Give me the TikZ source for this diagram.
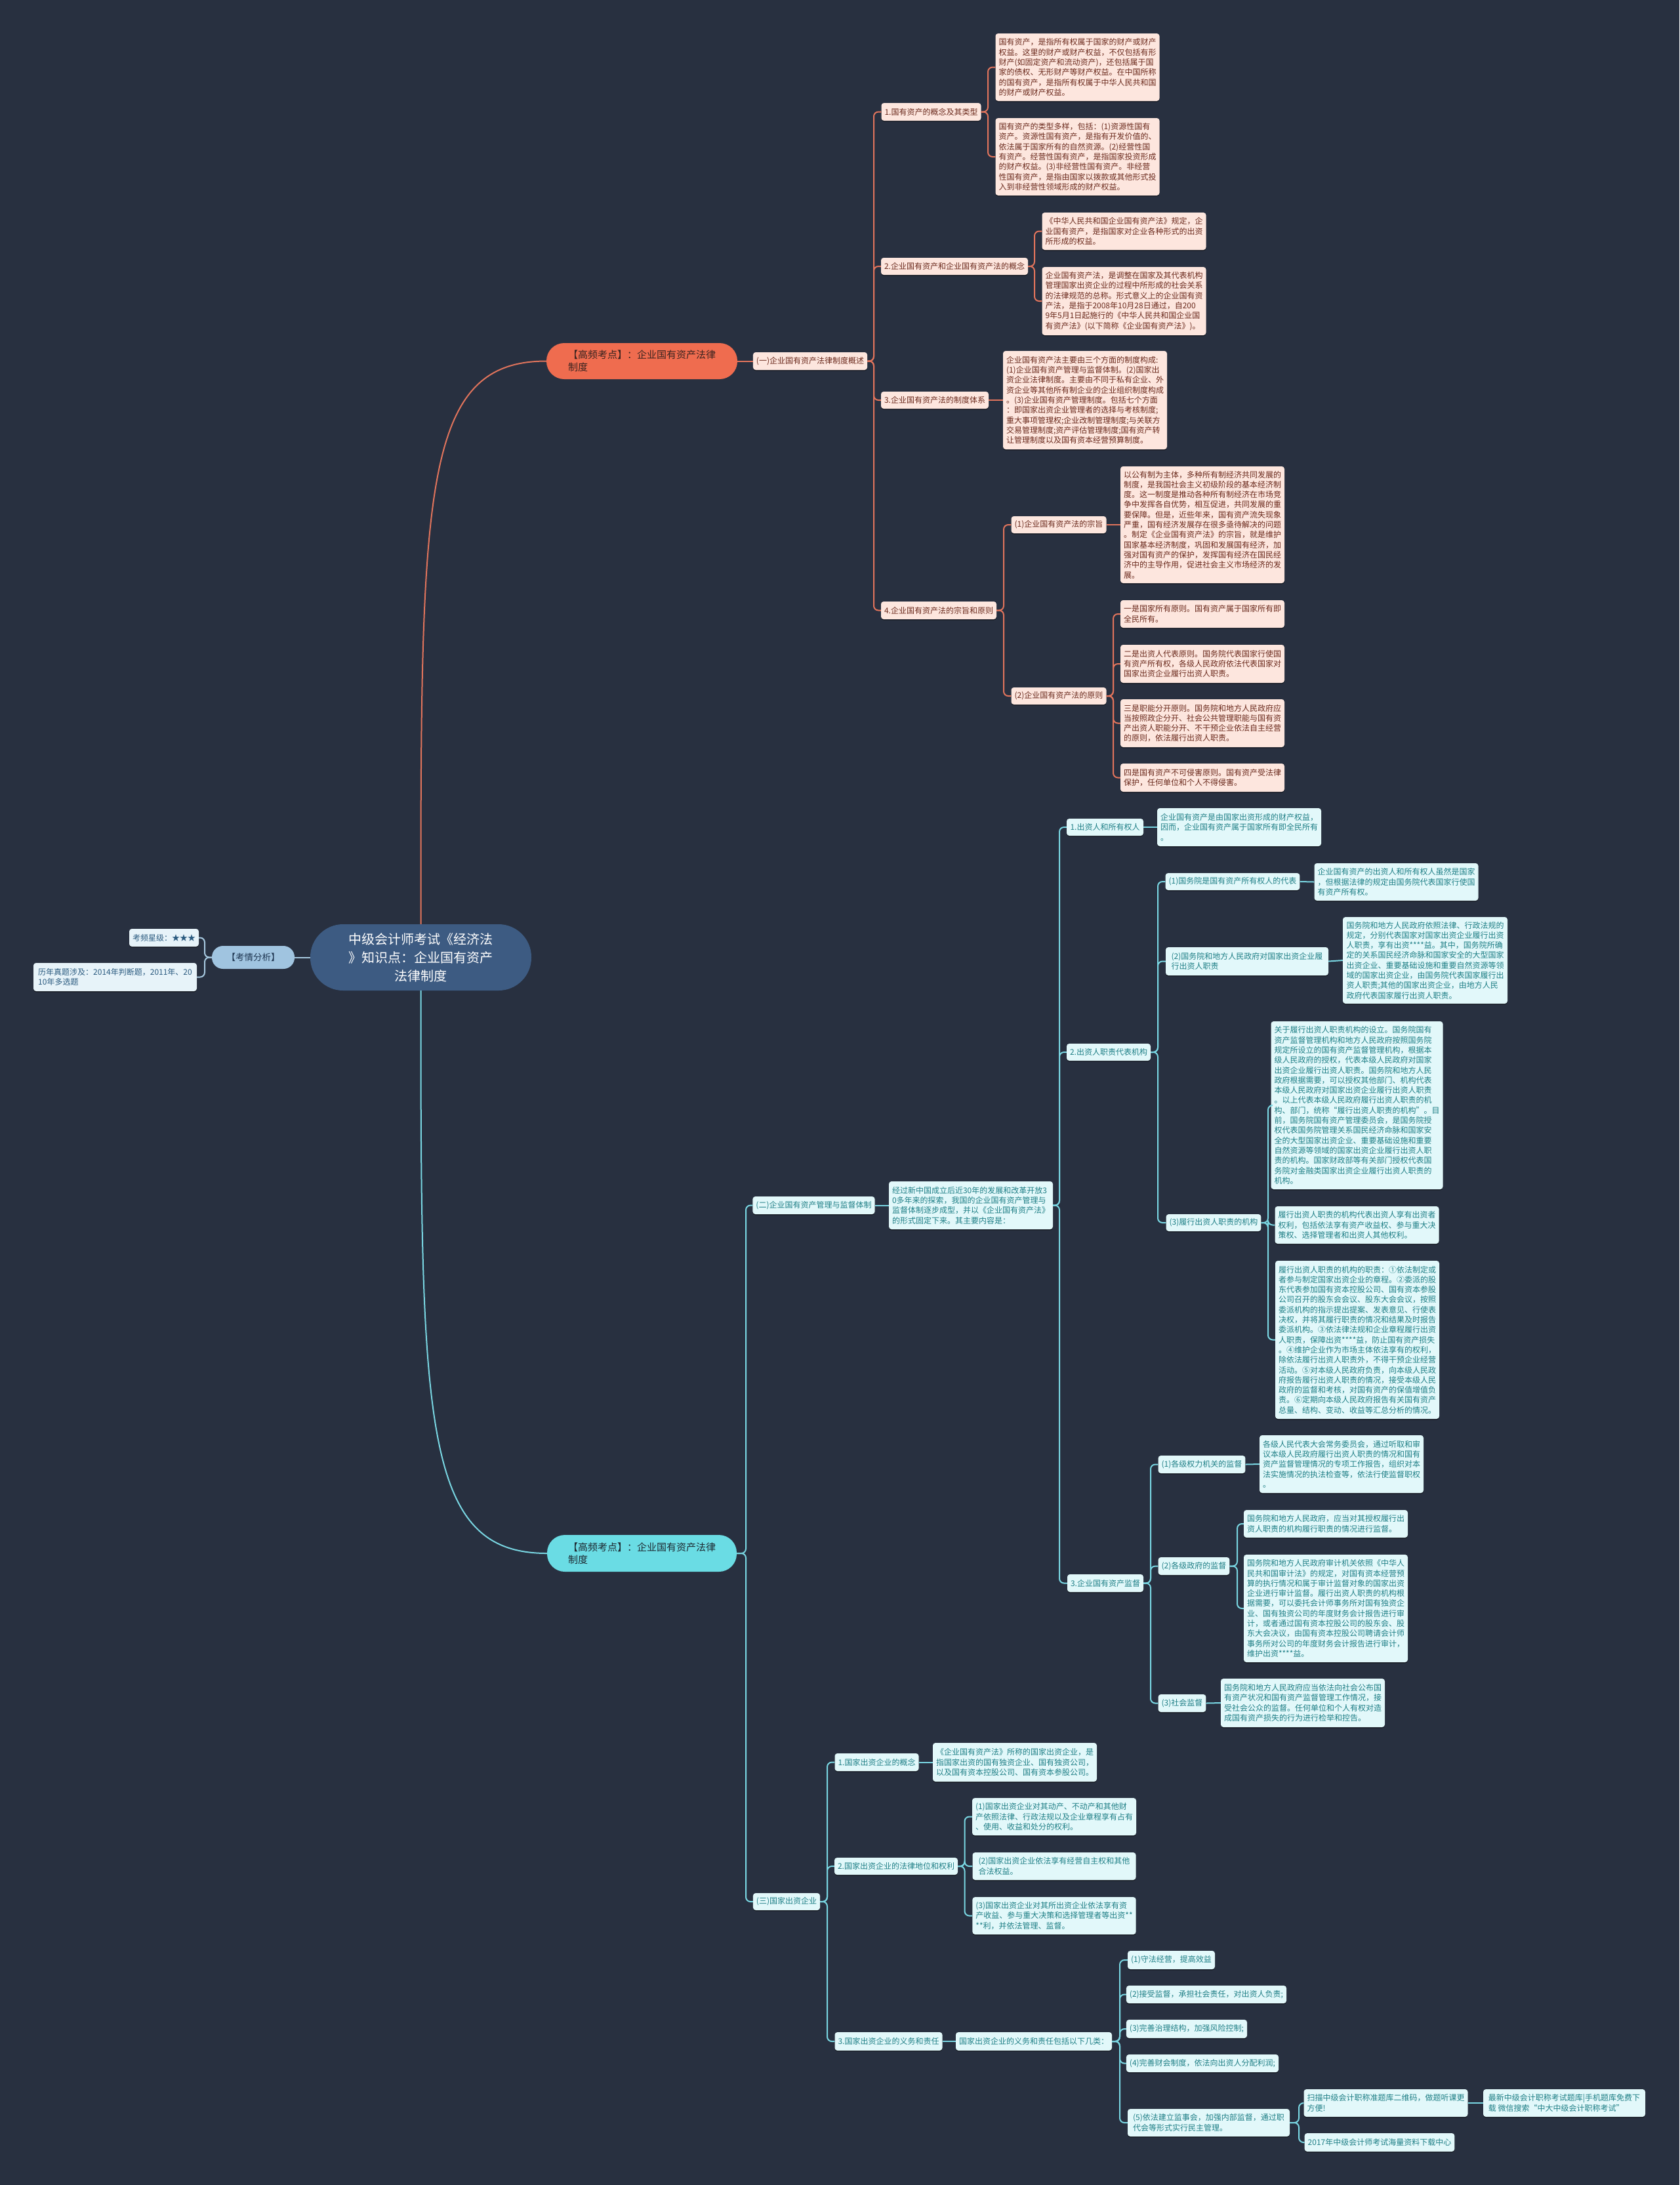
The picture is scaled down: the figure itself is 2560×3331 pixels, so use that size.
\documentclass[tikz,border=0pt]{standalone}
\usepackage{fontspec}
\setmainfont{Noto Sans CJK SC}
\usetikzlibrary{shadows}
\definecolor{bg}{HTML}{283040}
\definecolor{ofill}{HTML}{FDE6DE}
\definecolor{otext}{HTML}{6B2A1D}
\definecolor{oline}{HTML}{E1745C}
\definecolor{omain}{HTML}{EF6C4F}
\definecolor{omaintext}{HTML}{3A2420}
\definecolor{cfill}{HTML}{E2F8FA}
\definecolor{ctext}{HTML}{1F7F86}
\definecolor{cline}{HTML}{79D6E2}
\definecolor{cmain}{HTML}{6ADCE4}
\definecolor{cmaintext}{HTML}{1E2A32}
\definecolor{kfill}{HTML}{E7F3F9}
\definecolor{ktext}{HTML}{2A5A7F}
\definecolor{kline}{HTML}{A7C9E0}
\definecolor{kmain}{HTML}{A0C4E0}
\definecolor{kmaintext}{HTML}{1E3550}
\definecolor{rootfill}{HTML}{3D5B82}
\newcommand\mmlink[4]{\draw[#1] (#2.east) -- (#2.east -| #3) |- (#4.west);}
\newcommand\mmlinkL[4]{\draw[#1] (#2.west) -- (#2.west -| #3) |- (#4.east);}
\tikzset{
 base/.style={rounded corners=4pt, inner xsep=5pt, inner ysep=3pt, align=left,
   font=\fontsize{12}{15.3}\selectfont,
   drop shadow={shadow xshift=0pt, shadow yshift=-1.5pt, opacity=0.45, fill=black}},
 onode/.style={base, fill=ofill, text=otext},
 cnode/.style={base, fill=cfill, text=ctext},
 knode/.style={base, fill=kfill, text=ktext},
 sz/.style 2 args={minimum width=#1, minimum height=#2},
 oln/.style={draw=oline, line width=2pt, rounded corners=7pt},
 cln/.style={draw=cline, line width=2pt, rounded corners=7pt},
 kln/.style={draw=kline, line width=2pt, rounded corners=7pt},
 ocurve/.style={draw=oline, line width=2pt},
 ccurve/.style={draw=cline, line width=2pt},
}
\begin{document}
\begin{tikzpicture}[x=1pt, y=-1pt]
\fill[bg] (0,0) rectangle (2560,3331);
\useasboundingbox (0,0) rectangle (2560,3331);

% ---------- root and analysis ----------
\node[fill=rootfill, text=white, rounded corners=50pt, sz={337}{101}, align=center,
  font=\fontsize{20}{28}\selectfont] (root) at (641.5,1459.5)
  {中级会计师考试《经济法\\》知识点：企业国有资产\\法律制度};
\node[fill=kmain, text=kmaintext, rounded corners=17pt, sz={126}{35},
  font=\fontsize{13.5}{16}\selectfont] (kq) at (386,1459.5) {【考情分析】};
\node[knode, sz={100}{27}] (k1) at (250,1429.5) {考频星级：★★★};
\node[knode, sz={249}{43}] (k2) at (175.5,1489.5) {历年真题涉及：2014年判断题，2011年、20\\10年多选题};
\coordinate (ek) at (312,0);
\draw[kln] (root.west) -- (kq.east);
\mmlinkL{kln}{kq}{ek}{k1}
\mmlinkL{kln}{kq}{ek}{k2}

% ---------- orange branch ----------
\node[fill=omain, text=omaintext, rounded corners=27pt, sz={291}{55}, align=left,
  font=\fontsize{15}{19}\selectfont] (hf1) at (978.5,550.5) {【高频考点】：企业国有资产法律\\制度};
\draw[ocurve] (root.north) .. controls +(0,-660) and +(-190,0) .. (hf1.west);

\node[onode, sz={174}{27}] (y1) at (1235,550.5) {(一)企业国有资产法律制度概述};
\draw[oln] (hf1.east) -- (y1.west);
\coordinate (ey1) at (1332,0);

\node[onode, sz={151}{27}] (o1) at (1419.5,170.5) {1.国有资产的概念及其类型};
\node[onode, sz={249}{103}] (a1) at (1642.5,102.5) {国有资产，是指所有权属于国家的财产或财产\\权益。这里的财产或财产权益，不仅包括有形\\财产(如固定资产和流动资产)，还包括属于国\\家的债权、无形财产等财产权益。在中国所称\\的国有资产，是指所有权属于中华人民共和国\\的财产或财产权益。};
\node[onode, sz={249}{118}] (a2) at (1642.5,239) {国有资产的类型多样，包括：(1)资源性国有\\资产。资源性国有资产，是指有开发价值的、\\依法属于国家所有的自然资源。(2)经营性国\\有资产。经营性国有资产，是指国家投资形成\\的财产权益。(3)非经营性国有资产。非经营\\性国有资产，是指由国家以拨款或其他形式投\\入到非经营性领域形成的财产权益。};
\coordinate (eo1) at (1506,0);

\node[onode, sz={222}{26}] (o2) at (1455,406) {2.企业国有资产和企业国有资产法的概念};
\node[onode, sz={249}{57}] (b1) at (1713.5,352.5) {《中华人民共和国企业国有资产法》规定，企\\业国有资产，是指国家对企业各种形式的出资\\所形成的权益。};
\node[onode, sz={249}{104}] (b2) at (1713.5,459) {企业国有资产法，是调整在国家及其代表机构\\管理国家出资企业的过程中所形成的社会关系\\的法律规范的总称。形式意义上的企业国有资\\产法，是指于2008年10月28日通过，自200\\9年5月1日起施行的《中华人民共和国企业国\\有资产法》(以下简称《企业国有资产法》)。};
\coordinate (eo2) at (1577,0);

\node[onode, sz={164}{26}] (o3) at (1425,610) {3.企业国有资产法的制度体系};
\node[onode, sz={248}{150}] (c1) at (1654,610) {企业国有资产法主要由三个方面的制度构成:\\(1)企业国有资产管理与监督体制。(2)国家出\\资企业法律制度。主要由不同于私有企业、外\\资企业等其他所有制企业的企业组织制度构成\\。(3)企业国有资产管理制度。包括七个方面\\：即国家出资企业管理者的选择与考核制度;\\重大事项管理权;企业改制管理制度;与关联方\\交易管理制度;资产评估管理制度;国有资产转\\让管理制度以及国有资本经营预算制度。};

\node[onode, sz={176}{27}] (o4) at (1431,930.5) {4.企业国有资产法的宗旨和原则};
\node[onode, sz={145}{26}] (o41) at (1614,800) {(1)企业国有资产法的宗旨};
\node[onode, sz={145}{26}] (o42) at (1614,1061) {(2)企业国有资产法的原则};
\coordinate (eo4) at (1530,0);
\coordinate (eo42) at (1697,0);
\node[onode, sz={249}{178}] (d1) at (1833,800) {以公有制为主体，多种所有制经济共同发展的\\制度，是我国社会主义初级阶段的基本经济制\\度。这一制度是推动各种所有制经济在市场竞\\争中发挥各自优势，相互促进，共同发展的重\\要保障。但是，近些年来，国有资产流失现象\\严重，国有经济发展存在很多亟待解决的问题\\。制定《企业国有资产法》的宗旨，就是维护\\国家基本经济制度，巩固和发展国有经济，加\\强对国有资产的保护，发挥国有经济在国民经\\济中的主导作用，促进社会主义市场经济的发\\展。};
\node[onode, sz={249}{42}] (d2) at (1833,936) {一是国家所有原则。国有资产属于国家所有即\\全民所有。};
\node[onode, sz={249}{58}] (d3) at (1833,1012) {二是出资人代表原则。国务院代表国家行使国\\有资产所有权，各级人民政府依法代表国家对\\国家出资企业履行出资人职责。};
\node[onode, sz={249}{73}] (d4) at (1833,1102.5) {三是职能分开原则。国务院和地方人民政府应\\当按照政企分开、社会公共管理职能与国有资\\产出资人职能分开、不干预企业依法自主经营\\的原则，依法履行出资人职责。};
\node[onode, sz={249}{43}] (d5) at (1833,1185.5) {四是国有资产不可侵害原则。国有资产受法律\\保护，任何单位和个人不得侵害。};

\mmlink{oln}{y1}{ey1}{o1}
\mmlink{oln}{y1}{ey1}{o2}
\mmlink{oln}{y1}{ey1}{o3}
\mmlink{oln}{y1}{ey1}{o4}
\mmlink{oln}{o1}{eo1}{a1}
\mmlink{oln}{o1}{eo1}{a2}
\mmlink{oln}{o2}{eo2}{b1}
\mmlink{oln}{o2}{eo2}{b2}
\draw[oln] (o3.east) -- (c1.west);
\mmlink{oln}{o4}{eo4}{o41}
\mmlink{oln}{o4}{eo4}{o42}
\draw[oln] (o41.east) -- (d1.west);
\mmlink{oln}{o42}{eo42}{d2}
\mmlink{oln}{o42}{eo42}{d3}
\mmlink{oln}{o42}{eo42}{d4}
\mmlink{oln}{o42}{eo42}{d5}

% ---------- cyan branch ----------
\node[fill=cmain, text=cmaintext, rounded corners=27pt, sz={289}{56}, align=left,
  font=\fontsize{15}{19}\selectfont] (hf2) at (978.5,2368) {【高频考点】：企业国有资产法律\\制度};
\draw[ccurve] (root.south) .. controls +(0,660) and +(-190,0) .. (hf2.west);
\coordinate (ec) at (1137,0);

\node[cnode, sz={185}{27}] (y2) at (1240.5,1837.5) {(二)企业国有资产管理与监督体制};
\node[cnode, sz={248}{73}] (g0) at (1480,1837.5) {经过新中国成立后近30年的发展和改革开放3\\0多年来的探索，我国的企业国有资产管理与\\监督体制逐步成型，并以《企业国有资产法》\\的形式固定下来。其主要内容是：};
\coordinate (eg) at (1615,0);

\node[cnode, sz={117}{26}] (p1) at (1684.5,1261) {1.出资人和所有权人};
\node[cnode, sz={250}{58}] (p1t) at (1889,1261) {企业国有资产是由国家出资形成的财产权益，\\因而，企业国有资产属于国家所有即全民所有\\。};

\node[cnode, sz={126}{26}] (p2) at (1690,1604) {2.出资人职责代表机构};
\coordinate (ep2) at (1765,0);
\node[cnode, sz={204}{26}] (q1) at (1879,1344) {(1)国务院是国有资产所有权人的代表};
\node[cnode, sz={247}{57}] (q1t) at (2128.5,1344.5) {企业国有资产的出资人和所有权人虽然是国家\\，但根据法律的规定由国务院代表国家行使国\\有资产所有权。};
\node[cnode, sz={248}{43}] (q2) at (1901,1465.5) {(2)国务院和地方人民政府对国家出资企业履\\行出资人职责};
\node[cnode, sz={251}{132}] (q2t) at (2172.5,1464) {国务院和地方人民政府依照法律、行政法规的\\规定，分别代表国家对国家出资企业履行出资\\人职责，享有出资****益。其中，国务院所确\\定的关系国民经济命脉和国家安全的大型国家\\出资企业、重要基础设施和重要自然资源等领\\域的国家出资企业，由国务院代表国家履行出\\资人职责;其他的国家出资企业，由地方人民\\政府代表国家履行出资人职责。};
\node[cnode, sz={144}{26}] (q3) at (1850,1864) {(3)履行出资人职责的机构};
\coordinate (eq3) at (1933,0);
\node[cnode, sz={247}{256}] (r1) at (2068.5,1685) {关于履行出资人职责机构的设立。国务院国有\\资产监督管理机构和地方人民政府按照国务院\\规定所设立的国有资产监督管理机构，根据本\\级人民政府的授权，代表本级人民政府对国家\\出资企业履行出资人职责。国务院和地方人民\\政府根据需要，可以授权其他部门、机构代表\\本级人民政府对国家出资企业履行出资人职责\\。以上代表本级人民政府履行出资人职责的机\\构、部门，统称“履行出资人职责的机构”。目\\前，国务院国有资产管理委员会，是国务院授\\权代表国务院管理关系国民经济命脉和国家安\\全的大型国家出资企业、重要基础设施和重要\\自然资源等领域的国家出资企业履行出资人职\\责的机构。国家财政部等有关部门授权代表国\\务院对金融类国家出资企业履行出资人职责的\\机构。};
\node[cnode, sz={247}{57}] (r2) at (2068.5,1867.5) {履行出资人职责的机构代表出资人享有出资者\\权利，包括依法享有资产收益权、参与重大决\\策权、选择管理者和出资人其他权利。};
\node[cnode, sz={249}{241}] (r3) at (2069,2042.5) {履行出资人职责的机构的职责：①依法制定或\\者参与制定国家出资企业的章程。②委派的股\\东代表参加国有资本控股公司、国有资本参股\\公司召开的股东会会议、股东大会会议，按照\\委派机构的指示提出提案、发表意见、行使表\\决权，并将其履行职责的情况和结果及时报告\\委派机构。③依法律法规和企业章程履行出资\\人职责，保障出资****益，防止国有资产损失\\。④维护企业作为市场主体依法享有的权利，\\除依法履行出资人职责外，不得干预企业经营\\活动。⑤对本级人民政府负责，向本级人民政\\府报告履行出资人职责的情况，接受本级人民\\政府的监督和考核，对国有资产的保值增值负\\责。⑥定期向本级人民政府报告有关国有资产\\总量、结构、变动、收益等汇总分析的情况。};

\node[cnode, sz={114}{27}] (p3) at (1685,2413.5) {3.企业国有资产监督};
\coordinate (ep3) at (1754,0);
\node[cnode, sz={132}{27}] (s1) at (1832,2232.5) {(1)各级权力机关的监督};
\node[cnode, sz={250}{88}] (s1t) at (2045,2232) {各级人民代表大会常务委员会，通过听取和审\\议本级人民政府履行出资人职责的情况和国有\\资产监督管理情况的专项工作报告，组织对本\\法实施情况的执法检查等，依法行使监督职权\\。};
\node[cnode, sz={108}{27}] (s2) at (1820,2387.5) {(2)各级政府的监督};
\coordinate (es2) at (1886,0);
\node[cnode, sz={248}{42}] (s2a) at (2021,2323) {国务院和地方人民政府，应当对其授权履行出\\资人职责的机构履行职责的情况进行监督。};
\node[cnode, sz={248}{164}] (s2b) at (2021,2452) {国务院和地方人民政府审计机关依照《中华人\\民共和国审计法》的规定，对国有资本经营预\\算的执行情况和属于审计监督对象的国家出资\\企业进行审计监督。履行出资人职责的机构根\\据需要，可以委托会计师事务所对国有独资企\\业、国有独资公司的年度财务会计报告进行审\\计，或者通过国有资本控股公司的股东会、股\\东大会决议，由国有资本控股公司聘请会计师\\事务所对公司的年度财务会计报告进行审计，\\维护出资****益。};
\node[cnode, sz={72}{27}] (s3) at (1802,2596.5) {(3)社会监督};
\node[cnode, sz={247}{74}] (s3t) at (1986,2596) {国务院和地方人民政府应当依法向社会公布国\\有资产状况和国有资产监督管理工作情况，接\\受社会公众的监督。任何单位和个人有权对造\\成国有资产损失的行为进行检举和控告。};

\node[cnode, sz={102}{26}] (y3) at (1199,2899) {(三)国家出资企业};
\coordinate (ey3) at (1261,0);
\node[cnode, sz={127}{27}] (t1) at (1336.5,2686.5) {1.国家出资企业的概念};
\node[cnode, sz={248}{59}] (t1t) at (1547,2686.5) {《企业国有资产法》所称的国家出资企业，是\\指国家出资的国有独资企业、国有独资公司，\\以及国有资本控股公司、国有资本参股公司。};
\node[cnode, sz={186}{26}] (t2) at (1366,2845) {2.国家出资企业的法律地位和权利};
\coordinate (et2) at (1470.5,0);
\node[cnode, sz={249}{57}] (u1) at (1607,2769.5) {(1)国家出资企业对其动产、不动产和其他财\\产依照法律、行政法规以及企业章程享有占有\\、使用、收益和处分的权利。};
\node[cnode, sz={249}{42}] (u2) at (1607,2845) {(2)国家出资企业依法享有经营自主权和其他\\合法权益。};
\node[cnode, sz={249}{57}] (u3) at (1607,2920.5) {(3)国家出资企业对其所出资企业依法享有资\\产收益、参与重大决策和选择管理者等出资**\\{}**利，并依法管理、监督。};
\node[cnode, sz={161}{28}] (t3) at (1354.5,3112) {3.国家出资企业的义务和责任};
\node[cnode, sz={235}{28}] (t3t) at (1576,3112) {国家出资企业的义务和责任包括以下几类：};
\coordinate (et3) at (1707,0);
\node[cnode, sz={133}{28}] (v1) at (1785.5,2988) {(1)守法经营，提高效益};
\node[cnode, sz={240}{27}] (v2) at (1839,3040.5) {(2)接受监督，承担社会责任，对出资人负责;};
\node[cnode, sz={180}{28}] (v3) at (1809,3093) {(3)完善治理结构，加强风险控制;};
\node[cnode, sz={228}{27}] (v4) at (1833,3145.5) {(4)完善财会制度，依法向出资人分配利润;};
\node[cnode, sz={247}{42}] (v5) at (1842.5,3236) {(5)依法建立监事会，加强内部监督，通过职\\代会等形式实行民主管理。};
\coordinate (ev5) at (1980,0);
\node[cnode, sz={247}{42}] (w1) at (2112.5,3206) {扫描中级会计职称准题库二维码，做题听课更\\方便!};
\node[cnode, sz={247}{42}] (w2) at (2384.5,3206) {最新中级会计职称考试题库|手机题库免费下\\载 微信搜索“中大中级会计职称考试”};
\node[cnode, sz={228}{28}] (w3) at (2103,3266) {2017年中级会计师考试海量资料下载中心};

\mmlink{cln}{hf2}{ec}{y2}
\mmlink{cln}{hf2}{ec}{y3}
\draw[cln] (y2.east) -- (g0.west);
\mmlink{cln}{g0}{eg}{p1}
\mmlink{cln}{g0}{eg}{p2}
\mmlink{cln}{g0}{eg}{p3}
\draw[cln] (p1.east) -- (p1t.west);
\mmlink{cln}{p2}{ep2}{q1}
\mmlink{cln}{p2}{ep2}{q2}
\mmlink{cln}{p2}{ep2}{q3}
\draw[cln] (q1.east) -- (q1t.west);
\draw[cln] (q2.east) -- (q2t.west);
\mmlink{cln}{q3}{eq3}{r1}
\mmlink{cln}{q3}{eq3}{r2}
\mmlink{cln}{q3}{eq3}{r3}
\mmlink{cln}{p3}{ep3}{s1}
\mmlink{cln}{p3}{ep3}{s2}
\mmlink{cln}{p3}{ep3}{s3}
\draw[cln] (s1.east) -- (s1t.west);
\mmlink{cln}{s2}{es2}{s2a}
\mmlink{cln}{s2}{es2}{s2b}
\draw[cln] (s3.east) -- (s3t.west);
\mmlink{cln}{y3}{ey3}{t1}
\mmlink{cln}{y3}{ey3}{t2}
\mmlink{cln}{y3}{ey3}{t3}
\draw[cln] (t1.east) -- (t1t.west);
\mmlink{cln}{t2}{et2}{u1}
\mmlink{cln}{t2}{et2}{u2}
\mmlink{cln}{t2}{et2}{u3}
\draw[cln] (t3.east) -- (t3t.west);
\mmlink{cln}{t3t}{et3}{v1}
\mmlink{cln}{t3t}{et3}{v2}
\mmlink{cln}{t3t}{et3}{v3}
\mmlink{cln}{t3t}{et3}{v4}
\mmlink{cln}{t3t}{et3}{v5}
\mmlink{cln}{v5}{ev5}{w1}
\mmlink{cln}{v5}{ev5}{w3}
\draw[cln] (w1.east) -- (w2.west);
\end{tikzpicture}
\end{document}
